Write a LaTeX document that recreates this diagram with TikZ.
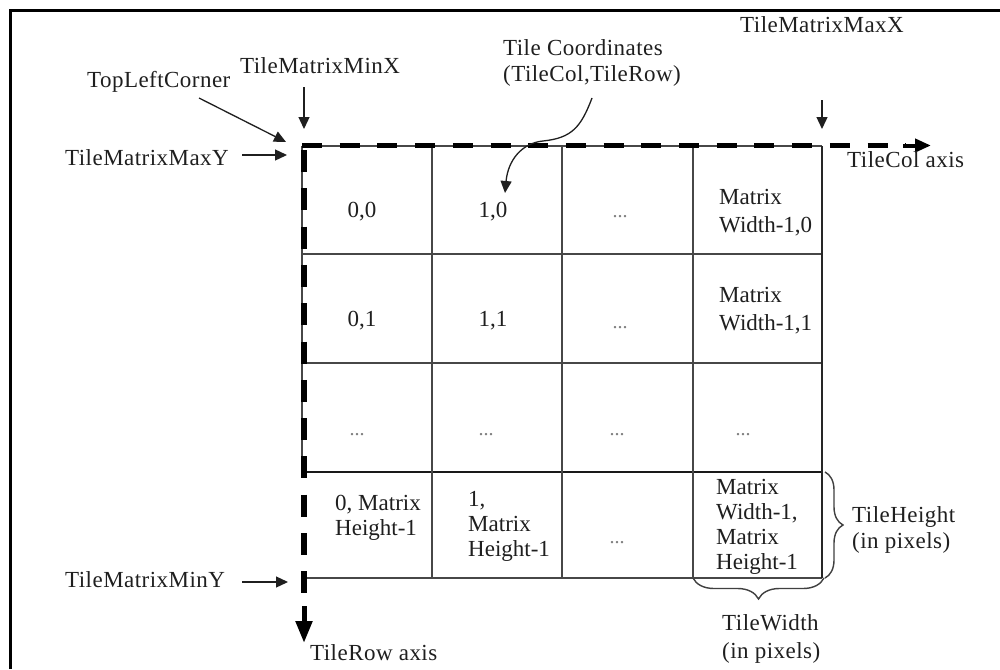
\documentclass[tikz,border=0pt]{standalone}
\usepackage{fontspec}
\setmainfont{Liberation Serif}[LetterSpace=2]
\newfontfamily\cellfont{Liberation Serif}
\usetikzlibrary{arrows.meta,decorations.pathreplacing}
\begin{document}
\begin{tikzpicture}[x=1pt,y=-1pt,
  lbl/.style={font=\fontsize{23}{26}\selectfont, inner sep=0pt, text=black!88, align=left},
  cell/.style={font=\cellfont\fontsize{23}{28}\selectfont, inner sep=0pt, text=black!88, align=left},
  celltight/.style={font=\cellfont\fontsize{23}{25}\selectfont, inner sep=0pt, text=black!88, align=left},
  dots/.style={font=\cellfont\fontsize{20}{20}\selectfont, inner sep=0pt, text=black!50, anchor=base},
  gridline/.style={line width=1.4pt, draw=black!72},
  ptr/.style={line width=1.3pt, draw=black!88, -{Triangle[length=12pt,width=11pt]}},
  haxis/.style={line width=4.5pt, draw=black, dash pattern=on 20pt off 17.7pt},
  vaxis/.style={line width=5.5pt, draw=black, dash pattern=on 22pt off 16.3pt},
  bracestyle/.style={line width=1.4pt, draw=black!75, decorate},
  frame/.style={line width=3pt, draw=black}
]
\useasboundingbox (0,0) rectangle (1000,669);
\fill[white] (0,0) rectangle (1000,669);

% outer frame (cropped)
\coordinate (fbl) at (10,669);
\coordinate (ftl) at (10,11);
\coordinate (ftr) at (1000,11);
\draw[frame] (fbl) -- (ftl) -- (ftr);

% grid coordinates
\coordinate (g00) at (302,146);
\coordinate (g40) at (822,146);
\coordinate (g01) at (302,254);
\coordinate (g41) at (822,254);
\coordinate (g02) at (302,363);
\coordinate (g42) at (822,363);
\coordinate (g03) at (302,472);
\coordinate (g43) at (822,472);
\coordinate (g04) at (302,578);
\coordinate (g44) at (822,578);
\coordinate (g10) at (432,146);
\coordinate (g14) at (432,578);
\coordinate (g20) at (562,146);
\coordinate (g24) at (562,578);
\coordinate (g30) at (693,146);
\coordinate (g34) at (693,578);

% grid lines
\draw[gridline] (g00) -- (g40);
\draw[gridline] (g01) -- (g41);
\draw[gridline] (g02) -- (g42);
\draw[gridline, draw=black!90] (g03) -- (g43);
\draw[gridline] (g04) -- (g44);
\draw[gridline] (g00) -- (g03);
\draw[gridline] (g10) -- (g14);
\draw[gridline] (g20) -- (g24);
\draw[gridline] (g30) -- (g34);
\draw[gridline, draw=black!85] (g40) -- (g44);

% axes
\coordinate (hs) at (302,145.5);
\coordinate (he) at (906,145.5);
\coordinate (has) at (903,145.5);
\coordinate (hae) at (931,145.5);
\draw[haxis] (hs) -- (he);
\draw[line width=4pt, -{Triangle[length=16pt,width=13pt]}] (has) -- (hae);
\coordinate (vs) at (304,150);
\coordinate (ve) at (304,600);
\coordinate (vas) at (304,606);
\coordinate (vae) at (304,643);
\draw[vaxis] (vs) -- (ve);
\draw[line width=5pt, -{Triangle[length=22pt,width=16pt]}] (vas) -- (vae);

% labels
\node[lbl, anchor=base west] (tlc) at (87,87) {TopLeftCorner};
\node[lbl, anchor=base west] (minx) at (240,74) {TileMatrixMinX};
\node[lbl, anchor=base west] (maxy) at (65,165) {TileMatrixMaxY};
\node[lbl, anchor=base west] (maxx) at (740,33) {TileMatrixMaxX};
\node[lbl, anchor=north west] (tcoord) at (503,39.5) {Tile Coordinates\\(TileCol,TileRow)};
\node[lbl, anchor=base west] (colax) at (847,167) {TileCol axis};
\node[lbl, anchor=base west] (miny) at (65,587) {TileMatrixMinY};
\node[lbl, anchor=base west] (rowax) at (310,660) {TileRow axis};
\node[lbl, anchor=north west] (theight) at (852,506.5) {TileHeight\\(in pixels)};
\node[lbl, anchor=north west, font=\fontsize{23}{28}\selectfont] (twidth) at (722,614.5) {TileWidth\\(in pixels)};

% label pointers
\coordinate (tlcS) at (199,98);
\coordinate (tlcE) at (286,142);
\draw[ptr] (tlcS) -- (tlcE);
\coordinate (minxS) at (304,87);
\coordinate (minxE) at (304,129);
\draw[ptr] (minxS) -- (minxE);
\coordinate (maxyS) at (242,155);
\coordinate (maxyE) at (287,155);
\draw[ptr] (maxyS) -- (maxyE);
\coordinate (maxxS) at (822,100);
\coordinate (maxxE) at (822,129);
\draw[ptr] (maxxS) -- (maxxE);
\coordinate (minyS) at (242,582);
\coordinate (minyE) at (288,582);
\draw[ptr] (minyS) -- (minyE);
\coordinate (tcS) at (592,98);
\coordinate (tcM) at (543,141);
\coordinate (tcE) at (505,193);
\draw[ptr] (tcS) .. controls (581,127) and (572,138) .. (tcM) .. controls (522,143) and (508,160) .. (tcE);

% cell texts
\node[cell, anchor=base] (c00) at (362,217) {0,0};
\node[cell, anchor=base] (c10) at (493,217) {1,0};
\node[dots] (c20) at (620,217) {...};
\node[cell, anchor=north west] (c30) at (719,189.5) {Matrix\\Width-1,0};
\node[cell, anchor=base] (c01) at (362,326) {0,1};
\node[cell, anchor=base] (c11) at (493,326) {1,1};
\node[dots] (c21) at (620,328) {...};
\node[cell, anchor=north west] (c31) at (719,287.5) {Matrix\\Width-1,1};
\node[dots] (c02) at (357,435) {...};
\node[dots] (c12) at (486,435) {...};
\node[dots] (c22) at (617,435) {...};
\node[dots] (c32) at (743,435) {...};
\node[celltight, anchor=north west] (c03) at (335,494.5) {0, Matrix\\Height-1};
\node[celltight, anchor=north west] (c13) at (468,491.5) {1,\\Matrix\\Height-1};
\node[dots] (c23) at (617,543) {...};
\node[celltight, anchor=north west] (c33) at (716,479.5) {Matrix\\Width-1,\\Matrix\\Height-1};

% braces
\coordinate (rb1) at (825,472);
\coordinate (rb2) at (825,578);
\draw[bracestyle, decoration={brace, amplitude=18pt}] (rb1) -- (rb2);
\coordinate (bb1) at (824,578);
\coordinate (bb2) at (693,578);
\draw[bracestyle, decoration={brace, amplitude=21pt}] (bb1) -- (bb2);
\end{tikzpicture}
\end{document}
